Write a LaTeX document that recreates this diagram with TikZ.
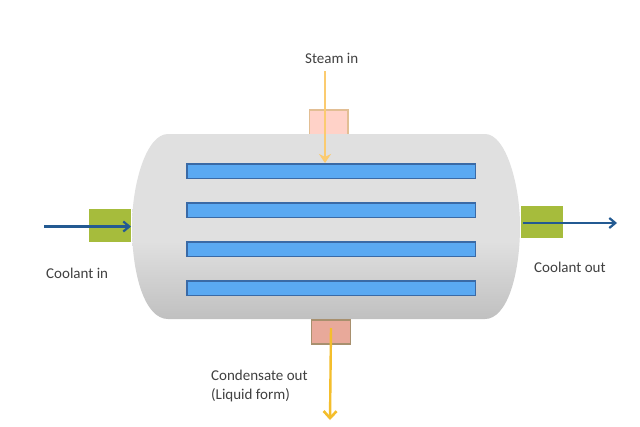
\documentclass[tikz,border=0pt]{standalone}
\usepackage{fontspec}
\setmainfont{Carlito}
\usetikzlibrary{arrows.meta,positioning}
\definecolor{tubefill}{HTML}{5AA9F2}
\definecolor{tubeline}{HTML}{3A6AA6}
\definecolor{greenbox}{HTML}{A6BC3C}
\definecolor{bluearrow}{HTML}{235A92}
\definecolor{amber}{HTML}{F4BE2C}
\definecolor{lightamber}{HTML}{FBCB70}
\definecolor{steamfill}{HTML}{FFD2C8}
\definecolor{steamedge}{HTML}{E2BE94}
\definecolor{condfill}{HTML}{E8A99A}
\definecolor{condedge}{HTML}{A8906E}
\definecolor{shellmid}{HTML}{E0E0E0}
\definecolor{shelllow}{HTML}{C0C0C0}
\pgfdeclareverticalshading{shellshade}{100bp}{color(0bp)=(shelllow); color(25bp)=(shelllow); color(46bp)=(shellmid); color(75bp)=(shellmid); color(100bp)=(shellmid)}
\tikzset{
  x=1pt,y=-1pt,
  tube/.style={draw=tubeline,line width=1.5pt,fill=tubefill,minimum width=288.5pt,minimum height=14.5pt,inner sep=0pt,outer sep=0pt,anchor=north west},
  port/.style={inner sep=0pt,outer sep=0pt,anchor=north west},
  greenport/.style={port,fill=greenbox,minimum width=42pt,minimum height=33pt},
  label/.style={inner sep=0pt,font=\fontsize{15pt}{19pt}\selectfont,text=black!75,align=left},
  bluearrowline/.style={draw=bluearrow,line width=2.2pt,-{Straight Barb[length=6pt,width=10pt,line width=2.2pt]}},
  steamline/.style={draw=lightamber,line width=2.4pt,-{Stealth[length=9pt,width=12pt]}},
  condline/.style={draw=amber,line width=2.4pt,-{Straight Barb[length=7pt,width=13pt,line width=2.6pt]}}
}
\begin{document}
\begin{tikzpicture}
\useasboundingbox (0,0) rectangle (640,426);
\fill[white] (0,0) rectangle (640,426);
% steam port behind the shell
\node[port,draw=steamedge,line width=1.3pt,fill=steamfill,minimum width=38.5pt,minimum height=24.5pt] (steamport) at (309.5,110) {};
% shell
\path[shading=shellshade]
  (168,134) -- (485,134) .. controls (506,134) and (520,185) .. (520,226)
  .. controls (520,275) and (507,319) .. (485,319) -- (168,319)
  .. controls (145,319) and (132,275) .. (132,226) .. controls (132,185) and (146,134) .. (168,134) -- cycle;
% tubes
\node[tube] (tubeA) at (186.75,163.75) {};
\node[tube] (tubeB) at (186.75,202.75) {};
\node[tube] (tubeC) at (186.75,241.75) {};
\node[tube] (tubeD) at (186.75,280.75) {};
% ports
\node[greenport] (coolin) at (89,209) {};
\node[greenport,minimum height=32pt] (coolout) at (521,206) {};
\node[port,draw=condedge,line width=1.3pt,fill=condfill,minimum width=39pt,minimum height=24pt] (condport) at (311.5,320) {};
% labels
\node[label,anchor=west] (steamlab) at (305,58) {Steam in};
\node[label,anchor=west] (coolinlab) at (46,273) {Coolant in};
\node[label,anchor=west] (cooloutlab) at (534,267) {Coolant out};
\node[label,anchor=north west] (condlab) at (211,370) {Condensate out\\(Liquid form)};
% free ends
\coordinate (steamstart) at (325,71);
\coordinate (steamend) at (325,163);
\coordinate (coolinstart) at (44,226.5);
\coordinate (coolinend) at (131,226.5);
\coordinate (cooloutstart) at (523,223);
\coordinate (cooloutend) at (617,223);
\coordinate (condstart) at (331,328);
\coordinate (condend) at (330,420);
% connectors
\draw[steamline] (steamstart) -- (steamend);
\draw[bluearrowline] (coolinstart) -- (coolinend);
\draw[bluearrowline] (cooloutstart) -- (cooloutend);
\draw[condline] (condstart) -- (condend);
\end{tikzpicture}
\end{document}
